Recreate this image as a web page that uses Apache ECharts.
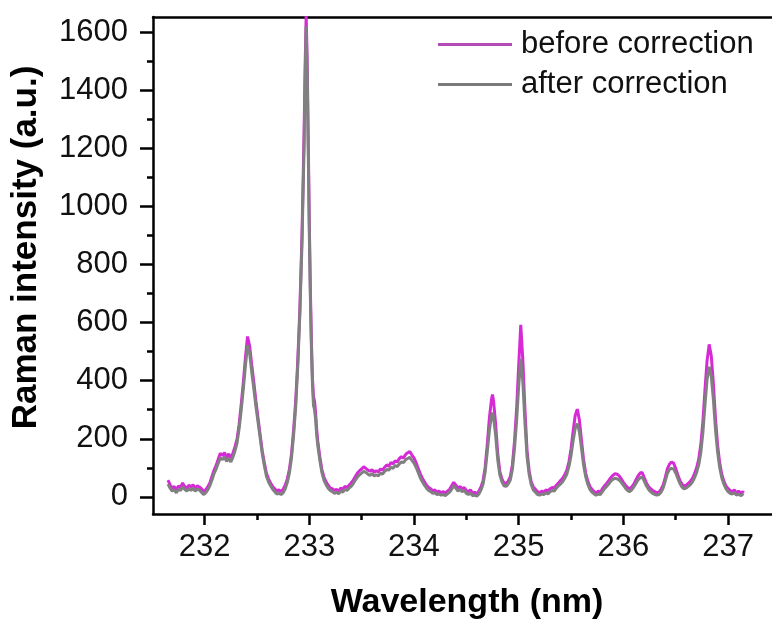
<!DOCTYPE html>
<html>
<head>
<meta charset="utf-8">
<script src="https://cdn.jsdelivr.net/npm/echarts@6/dist/echarts.min.js"></script>
<style>
html,body{margin:0;padding:0;background:#fff;}
#c{width:772px;height:625px;}
</style>
</head>
<body>
<div id="c"></div>
<script>
// ---- data ----
const wavelength = [
231.65,231.67,231.69,231.71,231.73,231.75,231.77,231.79,231.81,231.83,231.85,231.87,231.89,231.91,231.93,231.95,231.97,231.99,
232.01,232.03,232.05,232.07,232.09,232.11,232.13,232.15,232.17,232.19,232.21,232.23,232.25,232.27,232.29,232.31,232.33,232.35,
232.37,232.39,232.41,232.43,232.45,232.47,232.49,232.51,232.53,232.55,232.57,232.59,232.61,232.63,232.65,232.67,232.69,232.71,
232.73,232.75,232.77,232.79,232.81,232.83,232.85,232.87,232.89,232.91,232.93,232.95,232.96,232.97,232.98,232.99,233.00,233.01,
233.02,233.03,233.04,233.05,233.06,233.07,233.08,233.10,233.12,233.14,233.16,233.18,233.20,233.22,233.24,233.26,233.28,233.30,
233.32,233.34,233.36,233.38,233.40,233.42,233.44,233.46,233.48,233.50,233.52,233.54,233.56,233.58,233.60,233.62,233.64,233.66,
233.68,233.70,233.72,233.74,233.76,233.78,233.80,233.82,233.84,233.86,233.88,233.90,233.92,233.94,233.96,233.98,234.00,234.02,
234.04,234.06,234.08,234.10,234.12,234.14,234.16,234.18,234.20,234.22,234.24,234.26,234.28,234.30,234.32,234.34,234.36,234.38,
234.40,234.42,234.44,234.46,234.48,234.50,234.52,234.54,234.56,234.58,234.60,234.62,234.64,234.66,234.68,234.70,234.72,234.74,
234.75,234.76,234.78,234.80,234.82,234.84,234.86,234.88,234.90,234.92,234.94,234.96,234.98,235.00,235.02,235.04,235.06,235.08,
235.10,235.12,235.14,235.16,235.18,235.20,235.22,235.24,235.26,235.28,235.30,235.32,235.34,235.36,235.38,235.40,235.42,235.44,
235.46,235.48,235.50,235.52,235.54,235.56,235.58,235.60,235.62,235.64,235.66,235.68,235.70,235.72,235.74,235.76,235.78,235.80,
235.82,235.84,235.86,235.88,235.90,235.92,235.94,235.96,235.98,236.00,236.02,236.04,236.06,236.08,236.10,236.12,236.14,236.16,
236.18,236.20,236.22,236.24,236.26,236.28,236.30,236.32,236.34,236.36,236.38,236.40,236.42,236.44,236.46,236.48,236.50,236.52,
236.54,236.56,236.58,236.60,236.62,236.64,236.66,236.68,236.70,236.72,236.74,236.76,236.78,236.80,236.82,236.84,236.86,236.88,
236.90,236.92,236.94,236.96,236.98,237.00,237.02,237.04,237.06,237.08,237.10,237.12,237.14,237.15
];
const beforeCorrection = [
58,42,30,36,24,38,32,48,36,30,40,34,42,30,38,34,28,18,
24,34,48,70,92,108,130,150,142,152,136,148,134,150,172,200,250,320,
395,480,552,520,455,395,330,272,215,160,118,82,62,48,36,28,20,24,
18,26,40,62,95,148,230,330,470,650,900,1250,1480,1655,1500,1230,950,720,
540,410,345,330,290,235,195,140,95,68,52,40,30,28,22,26,20,30,
26,36,32,40,48,58,70,82,90,96,104,98,92,88,94,84,90,86,
96,92,102,110,106,118,114,124,120,132,138,134,146,152,156,144,134,118,
98,80,64,52,40,32,28,20,24,16,20,14,18,12,20,26,38,50,
40,30,36,28,32,22,18,24,12,16,10,20,34,56,102,180,270,335,
352,330,250,150,88,62,48,46,54,70,110,190,300,450,592,470,300,160,
90,52,34,26,18,14,20,16,24,20,28,32,30,40,48,56,64,76,
92,120,165,225,280,302,265,195,128,82,54,36,26,18,14,20,16,28,
38,46,56,66,74,80,78,72,62,50,40,32,28,34,44,58,72,82,
84,66,48,36,28,22,18,14,16,26,40,66,96,112,120,116,98,76,
56,44,38,40,46,54,64,80,100,130,180,260,370,470,525,485,390,270,
180,118,78,54,38,28,22,18,24,14,20,12,18,14
];
const afterCorrection = [
44,30,20,24,14,26,22,34,26,20,28,22,30,20,26,24,16,8,
14,24,38,58,80,96,116,134,128,138,122,134,120,136,158,186,236,300,
372,452,522,495,430,372,312,258,205,150,108,72,52,38,26,18,10,12,
8,14,28,50,82,134,212,310,450,630,870,1200,1430,1620,1460,1190,910,690,
515,385,315,300,268,215,180,128,84,58,42,30,22,18,12,16,10,20,
16,26,22,30,36,46,58,68,76,82,88,84,78,74,80,72,76,72,
82,78,88,94,92,102,98,108,104,114,120,118,128,132,136,126,116,102,
84,66,52,40,30,22,18,12,14,8,10,6,8,4,10,16,26,38,
30,20,26,18,22,12,8,14,4,6,2,10,24,44,86,155,228,278,
290,275,212,128,76,52,38,36,44,58,94,165,260,380,475,395,255,138,
78,42,24,16,8,6,10,8,14,10,18,22,20,30,38,44,52,64,
78,104,142,192,236,252,225,168,110,70,44,26,16,10,6,10,8,18,
28,36,44,54,60,64,62,58,50,40,30,22,18,24,34,46,58,66,
68,54,38,26,18,12,8,6,8,16,30,54,80,94,98,96,82,64,
46,34,28,30,36,42,52,66,84,110,152,222,318,405,448,415,335,232,
155,102,66,44,28,18,12,10,14,6,10,4,8,6
];
const seriesNames = ['before correction', 'after correction'];
const yMajorTicks = [0, 200, 400, 600, 800, 1000, 1200, 1400, 1600];
const yMinorTicks = [100, 300, 500, 700, 900, 1100, 1300, 1500];
const xMajorTicks = [232, 233, 234, 235, 236, 237];
const xMinorTicks = [232.5, 233.5, 234.5, 235.5, 236.5];
const xTitle = 'Wavelength (nm)';
const yTitle = 'Raman intensity (a.u.)';

// ---- chart ----
const X_MIN = 231.507, X_MAX = 237.42, Y_MIN = -59, Y_MAX = 1652;
const FONT = 'Liberation Sans, Arial, sans-serif';
const purple = '#d62ad6', gray = '#808080';

function pairs(ys) { return wavelength.map((x, i) => [x, ys[i]]); }

const chart = echarts.init(document.getElementById('c'), null, {renderer: 'canvas'});
const baseX = {type: 'value', min: X_MIN, max: X_MAX, splitLine: {show: false}};
const baseY = {type: 'value', min: Y_MIN, max: Y_MAX, splitLine: {show: false}};
chart.setOption({
  animation: false,
  backgroundColor: '#fff',
  grid: {left: 153, right: 0, top: 17, bottom: 108.3, containLabel: false},
  legend: {
    orient: 'vertical', left: 438, top: 29, padding: 0,
    itemWidth: 74, itemHeight: 14, itemGap: 9,
    textStyle: {fontFamily: FONT, fontSize: 31, color: '#111', lineHeight: 31, padding: [0,0,0,4]},
    data: [
      {name: seriesNames[0], icon: 'path://M0,0 L74,0 L74,3 L0,3 Z', itemStyle: {color: '#b44cb8'}},
      {name: seriesNames[1], icon: 'path://M0,0 L74,0 L74,3 L0,3 Z', itemStyle: {color: '#7a7a7a'}}
    ]
  },
  xAxis: [
    Object.assign({}, baseX, {
      position: 'bottom',
      name: xTitle, nameLocation: 'middle', nameGap: 72,
      nameTextStyle: {fontFamily: FONT, fontSize: 34, fontWeight: 'bold', color: '#000', padding: [0, 0, 0, 9]},
      axisLine: {show: true, onZero: false, lineStyle: {color: '#000', width: 2.5}},
      axisTick: {show: true, inside: false, length: 11, lineStyle: {color: '#000', width: 2.5}, customValues: xMajorTicks},
      axisLabel: {show: true, margin: 18, fontFamily: FONT, fontSize: 31, color: '#111', customValues: xMajorTicks,
                  formatter: v => String(v)}
    }),
    Object.assign({}, baseX, {
      position: 'bottom',
      axisLine: {show: false, onZero: false},
      axisTick: {show: true, inside: false, length: 6, lineStyle: {color: '#000', width: 2.5}, customValues: xMinorTicks},
      axisLabel: {show: false}
    }),
    Object.assign({}, baseX, {
      position: 'top',
      axisLine: {show: true, onZero: false, lineStyle: {color: '#000', width: 2.5}},
      axisTick: {show: false},
      axisLabel: {show: false}
    })
  ],
  yAxis: [
    Object.assign({}, baseY, {
      position: 'left',
      name: yTitle, nameLocation: 'middle', nameGap: 109,
      nameTextStyle: {fontFamily: FONT, fontSize: 35, fontWeight: 'bold', color: '#000', padding: [0, 0, 0, 36]},
      axisLine: {show: true, onZero: false, lineStyle: {color: '#000', width: 2.5}},
      axisTick: {show: true, inside: false, length: 13, lineStyle: {color: '#000', width: 2.5}, customValues: yMajorTicks},
      axisLabel: {show: true, margin: 25, fontFamily: FONT, fontSize: 31, color: '#111', customValues: yMajorTicks,
                  formatter: v => String(v)}
    }),
    Object.assign({}, baseY, {
      position: 'left',
      axisLine: {show: false, onZero: false},
      axisTick: {show: true, inside: false, length: 6, lineStyle: {color: '#000', width: 2.5}, customValues: yMinorTicks},
      axisLabel: {show: false}
    })
  ],
  series: [
    {
      name: seriesNames[0], type: 'line', xAxisIndex: 0, yAxisIndex: 0,
      data: pairs(beforeCorrection), symbol: 'none', showSymbol: false,
      lineStyle: {color: purple, width: 3}, itemStyle: {color: purple}, z: 2
    },
    {
      name: seriesNames[1], type: 'line', xAxisIndex: 0, yAxisIndex: 0,
      data: pairs(afterCorrection), symbol: 'none', showSymbol: false,
      lineStyle: {color: gray, width: 3}, itemStyle: {color: gray}, z: 3
    }
  ]
});
</script>
</body>
</html>
